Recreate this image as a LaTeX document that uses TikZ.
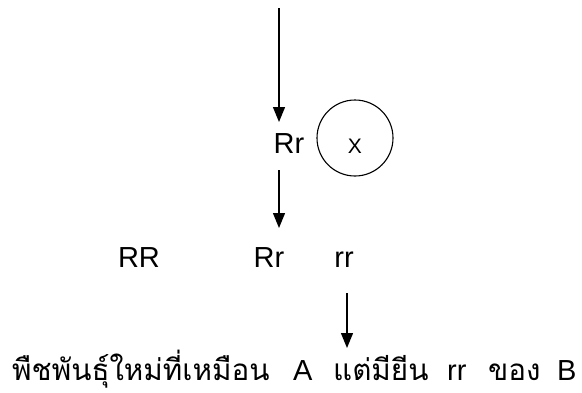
\documentclass[tikz,border=0pt]{standalone}
\usepackage{fontspec}
\setmainfont{Liberation Sans}
\newfontfamily\thaifont[Script=Thai,Scale=1.02]{Loma}
\usetikzlibrary{arrows.meta}
\begin{document}
\begin{tikzpicture}[x=1pt,y=-1pt,
  lbl/.style={font=\fontsize{29}{34}\selectfont, inner sep=0pt, anchor=base},
  arr/.style={line width=1.3pt, -{Triangle[length=15pt,width=12pt]}}]
\useasboundingbox (0,0) rectangle (582,392);
% top arrow
\coordinate (t1) at (279,8);
\coordinate (h1) at (279,122);
\draw[arr] (t1) -- (h1);
\node[lbl] (rr1) at (289,153) {Rr};
\node[draw, circle, line width=1.1pt, minimum size=76pt, inner sep=0pt] (cross) at (355,138) {};
\node[font=\fontsize{21}{25}\selectfont, inner sep=0pt, anchor=base] (x) at (355,153) {X};
% second arrow
\coordinate (t2) at (279,170);
\coordinate (h2) at (279,228);
\draw[arr] (t2) -- (h2);
\node[lbl] (RR) at (139,267) {RR};
\node[lbl] (Rr2) at (269,267) {Rr};
\node[lbl] (rr) at (344,267) {rr};
% third arrow
\coordinate (t3) at (347,293);
\coordinate (h3) at (347,348);
\draw[arr] (t3) -- (h3);
\node[lbl, anchor=base west] (res) at (12,380) {\makebox[281pt][l]{\thaifont พืชพันธุ์ใหม่ที่เหมือน}\makebox[40pt][l]{A}\makebox[114pt][l]{\thaifont แต่มียีน}\makebox[41pt][l]{rr}\makebox[69pt][l]{\thaifont ของ}B};
\end{tikzpicture}
\end{document}
